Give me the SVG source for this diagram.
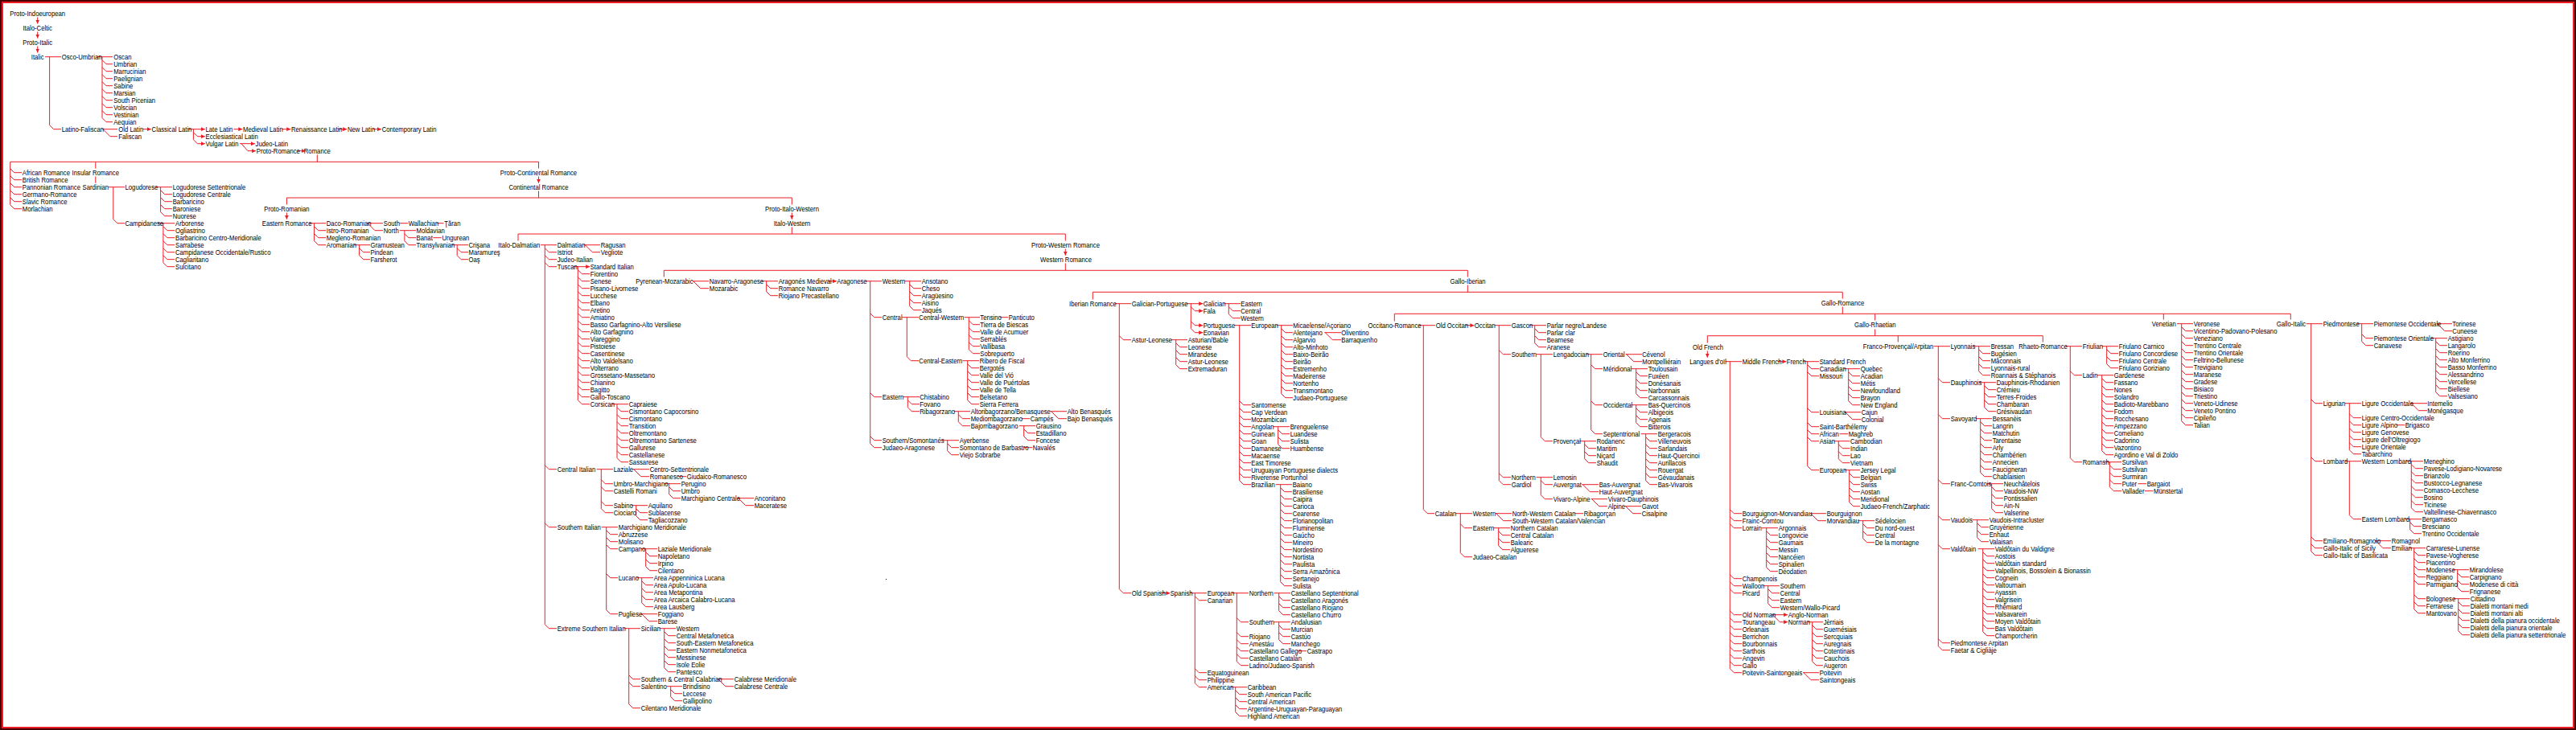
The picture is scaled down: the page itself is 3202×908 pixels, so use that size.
<svg xmlns="http://www.w3.org/2000/svg" width="3202" height="908" viewBox="0 0 3202 908">
<style>
text{font-family:"Liberation Sans",Arial,sans-serif;font-size:9px;fill:#000;dominant-baseline:central;transform-box:fill-box;transform-origin:0 50%;transform:scaleX(.86)}
text.m{text-anchor:middle;transform-origin:50% 50%}
#conn path{fill:none;stroke:#ee1c25;stroke-width:1}
#conn path.a{marker-end:url(#ah)}
</style>
<defs>
<marker id="ah" viewBox="0 0 5 5" refX="5" refY="2.5" markerWidth="5" markerHeight="5" markerUnits="userSpaceOnUse" orient="auto"><path d="M0,0L5,2.5L0,5z" fill="#ee1c25"/></marker>
</defs>
<rect x="0" y="0" width="3202" height="908" fill="#fff"/>
<rect x="1" y="1" width="3200" height="906" fill="none" stroke="#4a0000" stroke-width="2"/>
<rect x="3" y="3" width="3196" height="902" fill="none" stroke="#ee1c25" stroke-width="2"/>
<rect x="1101" y="720" width="1" height="1" fill="#000"/>
<g id="conn">
<path class="a" d="M46.7,21.5V29.5"/>
<path class="a" d="M46.7,39.5V47.5"/>
<path class="a" d="M46.7,57.5V65.5"/>
<path d="M56,70.7H76M61.6,70.7V155.7l5,5H76"/>
<path d="M120.5,70.7H140M127,70.7V146.7M127,74.7l5,5H140M127,83.7l5,5H140M127,92.7l5,5H140M127,101.7l5,5H140M127,110.7l5,5H140M127,119.7l5,5H140M127,128.7l5,5H140M127,137.7l5,5H140M127,146.7l5,5H140"/>
<path d="M127,160.7H146M128,160.7l9,9H146"/>
<path class="a" d="M177.5,160.7H187.8"/>
<path d="M240.4,160.7V173.7"/>
<path class="a" d="M234.6,160.7H254.8"/>
<path class="a" d="M240.4,164.7l5,5H254.8"/>
<path class="a" d="M240.4,173.7l5,5H254.8"/>
<path class="a" d="M290.5,160.7H301.3"/>
<path class="a" d="M350.5,160.7H361.3"/>
<path class="a" d="M420.7,160.7H431.2"/>
<path class="a" d="M463.6,160.7H474"/>
<path class="a" d="M298,178.7H316.9"/>
<path class="a" d="M300,178.7l8,9H318.1"/>
<path class="a" d="M369.7,187.7H379.7"/>
<path d="M394.3,192.5V201.3M12.7,201.3H669.5"/>
<path d="M12.7,201.3V254.7M12.7,209.7l5,5H27M12.7,218.7l5,5H27M12.7,227.7l5,5H27M12.7,236.7l5,5H27M12.7,245.7l5,5H27M12.7,254.7l5,5H27"/>
<path d="M118.8,201.3V209.5M118.8,219.5V227.7"/>
<path d="M134.5,232.7H155M140.8,232.7V272.7l5,5H155"/>
<path d="M193.4,232.7H214M199.6,232.7V263.7M199.6,236.7l5,5H214M199.6,245.7l5,5H214M199.6,254.7l5,5H214M199.6,263.7l5,5H214"/>
<path d="M196.6,277.7H217M202.9,277.7V326.7M202.9,281.7l5,5H217M202.9,290.7l5,5H217M202.9,299.7l5,5H217M202.9,308.7l5,5H217M202.9,317.7l5,5H217M202.9,326.7l5,5H217"/>
<path d="M669.5,201.3V209.5"/>
<path class="a" d="M669.5,219.5V227.7"/>
<path d="M669.5,237.5V246M356.4,246H984.3M356.4,246V254.5"/>
<path class="a" d="M356.4,264.5V272.7"/>
<path d="M384.4,277.7H405M390.6,277.7V299.7M390.6,281.7l5,5H405M390.6,290.7l5,5H405M390.6,299.7l5,5H405"/>
<path d="M456,277.7H476M457,277.7l9,9H476"/>
<path d="M496.7,277.7H507M542.8,277.7H551.5"/>
<path d="M496.7,286.7H517M502.9,286.7V299.7M502.9,290.7l5,5H517M502.9,299.7l5,5H517"/>
<path d="M538.3,295.7H548.7"/>
<path d="M561.2,304.7H582M568.2,304.7V317.7M568.2,308.7l5,5H582M568.2,317.7l5,5H582"/>
<path d="M440,304.7H460M446.6,304.7V317.7M446.6,308.7l5,5H460M446.6,317.7l5,5H460"/>
<path d="M984.3,246V254.5"/>
<path class="a" d="M984.3,264.5V272.7"/>
<path d="M984.3,282.5V291M644,291H1324.3M644,291V299.5"/>
<path d="M672,304.7H692M677.3,304.7V776.7M677.3,308.7l5,5H692M677.3,317.7l5,5H692M677.3,326.7l5,5H692M677.3,578.7l5,5H692M677.3,650.7l5,5H692M677.3,776.7l5,5H692"/>
<path d="M725.6,304.7H746M727.3,304.7l9,9H746"/>
<path class="a" d="M712.6,331.7H733.2"/>
<path d="M718.3,331.7V497.7M718.3,335.7l5,5H733M718.3,344.7l5,5H733M718.3,353.7l5,5H733M718.3,362.7l5,5H733M718.3,371.7l5,5H733M718.3,380.7l5,5H733M718.3,389.7l5,5H733M718.3,398.7l5,5H733M718.3,407.7l5,5H733M718.3,416.7l5,5H733M718.3,425.7l5,5H733M718.3,434.7l5,5H733M718.3,443.7l5,5H733M718.3,452.7l5,5H733M718.3,461.7l5,5H733M718.3,470.7l5,5H733M718.3,479.7l5,5H733M718.3,488.7l5,5H733M718.3,497.7l5,5H733"/>
<path d="M760.6,502.7H781M767,502.7V569.7M767,506.7l5,5H781M767,515.7l5,5H781M767,524.7l5,5H781M767,533.7l5,5H781M767,542.7l5,5H781M767,551.7l5,5H781M767,560.7l5,5H781M767,569.7l5,5H781"/>
<path d="M741.6,583.7H762M747.3,583.7V632.7M747.3,596.7l5,5H762M747.3,605.7l5,5H762M747.3,623.7l5,5H762M747.3,632.7l5,5H762"/>
<path d="M786.6,583.7H807M787.7,583.7l9,9H807"/>
<path d="M842.3,592.7H853.2"/>
<path d="M825.6,601.7H846M831.7,601.7V614.7M831.7,605.7l5,5H846M831.7,614.7l5,5H846"/>
<path d="M916.6,619.7H937M917.7,619.7l9,9H937"/>
<path d="M784.6,628.7H805M790.7,628.7V641.7M790.7,632.7l5,5H805M790.7,641.7l5,5H805"/>
<path d="M747.6,655.7H768M753.7,655.7V758.7M753.7,659.7l5,5H768M753.7,668.7l5,5H768M753.7,677.7l5,5H768M753.7,713.7l5,5H768M753.7,758.7l5,5H768"/>
<path d="M796.6,682.7H817M802.7,682.7V704.7M802.7,686.7l5,5H817M802.7,695.7l5,5H817M802.7,704.7l5,5H817"/>
<path d="M791.3,718.7H812M797.7,718.7V749.7M797.7,722.7l5,5H812M797.7,731.7l5,5H812M797.7,740.7l5,5H812M797.7,749.7l5,5H812"/>
<path d="M796.3,763.7H817M797.7,763.7l9,9H817"/>
<path d="M775.6,781.7H796M781.7,781.7V875.7M781.7,839.7l5,5H796M781.7,848.7l5,5H796M781.7,875.7l5,5H796"/>
<path d="M819.6,781.7H840M825.7,781.7V830.7M825.7,785.7l5,5H840M825.7,794.7l5,5H840M825.7,803.7l5,5H840M825.7,812.7l5,5H840M825.7,821.7l5,5H840M825.7,830.7l5,5H840"/>
<path d="M891.6,844.7H912M892.7,844.7l9,9H912"/>
<path d="M828.6,853.7H848M833.7,853.7V866.7M833.7,857.7l5,5H848M833.7,866.7l5,5H848"/>
<path d="M1324.3,291V299.5"/>
<path class="a" d="M1324.3,309.5V317.7"/>
<path d="M1324.3,327.5V336.3M825.3,336.3H1824.3M825.3,336.3V344.5"/>
<path d="M860.6,349.7H881M861.7,349.7l9,9H881"/>
<path d="M946.3,349.7H967M952.7,349.7V362.7M952.7,353.7l5,5H967M952.7,362.7l5,5H967"/>
<path class="a" d="M1029.6,349.7H1040"/>
<path d="M1075.6,349.7H1096M1081.7,349.7V551.7M1081.7,389.7l5,5H1096M1081.7,488.7l5,5H1096M1081.7,542.7l5,5H1096M1081.7,551.7l5,5H1096"/>
<path d="M1124.6,349.7H1145M1130.7,349.7V380.7M1130.7,353.7l5,5H1145M1130.7,362.7l5,5H1145M1130.7,371.7l5,5H1145M1130.7,380.7l5,5H1145"/>
<path d="M1121.3,394.7H1142M1127.3,394.7V443.7l5,5H1142"/>
<path d="M1198.6,394.7H1218M1204.3,394.7V434.7M1204.3,398.7l5,5H1218M1204.3,407.7l5,5H1218M1204.3,416.7l5,5H1218M1204.3,425.7l5,5H1218M1204.3,434.7l5,5H1218"/>
<path d="M1242.6,394.7H1253.2"/>
<path d="M1196.6,448.7H1217M1202.7,448.7V497.7M1202.7,452.7l5,5H1217M1202.7,461.7l5,5H1217M1202.7,470.7l5,5H1217M1202.7,479.7l5,5H1217M1202.7,488.7l5,5H1217M1202.7,497.7l5,5H1217"/>
<path d="M1122.6,493.7H1143M1128.3,493.7V506.7M1128.3,497.7l5,5H1143M1128.3,506.7l5,5H1143"/>
<path d="M1185.6,511.7H1206M1191.3,511.7V524.7M1191.3,515.7l5,5H1206M1191.3,524.7l5,5H1206"/>
<path d="M1305.6,511.7H1326M1306.7,511.7l9,9H1326"/>
<path d="M1269.6,520.7H1280.2"/>
<path d="M1267,529.7H1287M1272.7,529.7V542.7M1272.7,533.7l5,5H1287M1272.7,542.7l5,5H1287"/>
<path d="M1171.6,547.7H1192M1177.7,547.7V560.7M1177.7,551.7l5,5H1192M1177.7,560.7l5,5H1192"/>
<path d="M1272.6,556.7H1283.2"/>
<path d="M1824.3,336.3V344.5M1824.3,354.5V363.3M1358.3,363.3H2290.3M1358.3,363.3V372.5"/>
<path d="M1385.6,377.7H1406M1391.3,377.7V732.7M1391.3,417.7l5,5H1406M1391.3,732.7l5,5H1406"/>
<path d="M1480.3,377.7V408.7"/>
<path class="a" d="M1474.6,377.7H1495.2"/>
<path class="a" d="M1480.3,381.7l5,5H1495.2"/>
<path class="a" d="M1480.3,399.7l5,5H1495.2"/>
<path class="a" d="M1480.3,408.7l5,5H1495.2"/>
<path d="M1521.6,377.7H1542M1527.3,377.7V390.7M1527.3,381.7l5,5H1542M1527.3,390.7l5,5H1542"/>
<path d="M1534.6,404.7H1555M1540.7,404.7V597.7M1540.7,498.7l5,5H1555M1540.7,507.7l5,5H1555M1540.7,516.7l5,5H1555M1540.7,525.7l5,5H1555M1540.7,534.7l5,5H1555M1540.7,543.7l5,5H1555M1540.7,552.7l5,5H1555M1540.7,561.7l5,5H1555M1540.7,570.7l5,5H1555M1540.7,579.7l5,5H1555M1540.7,588.7l5,5H1555M1540.7,597.7l5,5H1555"/>
<path d="M1586.6,404.7H1607M1592.7,404.7V489.7M1592.7,408.7l5,5H1607M1592.7,417.7l5,5H1607M1592.7,426.7l5,5H1607M1592.7,435.7l5,5H1607M1592.7,444.7l5,5H1607M1592.7,453.7l5,5H1607M1592.7,462.7l5,5H1607M1592.7,471.7l5,5H1607M1592.7,480.7l5,5H1607M1592.7,489.7l5,5H1607"/>
<path d="M1646.3,413.7H1667M1647.3,413.7l9,9H1667"/>
<path d="M1582.6,530.7H1603M1588.7,530.7V552.7M1588.7,534.7l5,5H1603M1588.7,543.7l5,5H1603M1588.7,552.7l5,5H1603"/>
<path d="M1585.6,602.7H1606M1591.7,602.7V723.7M1591.7,606.7l5,5H1606M1591.7,615.7l5,5H1606M1591.7,624.7l5,5H1606M1591.7,633.7l5,5H1606M1591.7,642.7l5,5H1606M1591.7,651.7l5,5H1606M1591.7,660.7l5,5H1606M1591.7,669.7l5,5H1606M1591.7,678.7l5,5H1606M1591.7,687.7l5,5H1606M1591.7,696.7l5,5H1606M1591.7,705.7l5,5H1606M1591.7,714.7l5,5H1606M1591.7,723.7l5,5H1606"/>
<path d="M1455.6,422.7H1476M1461.7,422.7V453.7M1461.7,426.7l5,5H1476M1461.7,435.7l5,5H1476M1461.7,444.7l5,5H1476M1461.7,453.7l5,5H1476"/>
<path class="a" d="M1443.6,737.7H1454.4"/>
<path d="M1479.6,737.7H1500M1485.3,737.7V849.7M1485.3,741.7l5,5H1500M1485.3,831.7l5,5H1500M1485.3,840.7l5,5H1500M1485.3,849.7l5,5H1500"/>
<path d="M1531.6,737.7H1552M1537.3,737.7V822.7M1537.3,768.7l5,5H1552M1537.3,786.7l5,5H1552M1537.3,795.7l5,5H1552M1537.3,804.7l5,5H1552M1537.3,813.7l5,5H1552M1537.3,822.7l5,5H1552"/>
<path d="M1583.6,737.7H1604M1589.7,737.7V759.7M1589.7,741.7l5,5H1604M1589.7,750.7l5,5H1604M1589.7,759.7l5,5H1604"/>
<path d="M1583.6,773.7H1604M1589.7,773.7V795.7M1589.7,777.7l5,5H1604M1589.7,786.7l5,5H1604M1589.7,795.7l5,5H1604"/>
<path d="M1613.6,809.7H1624.2"/>
<path d="M1529.6,854.7H1550M1535.7,854.7V885.7M1535.7,858.7l5,5H1550M1535.7,867.7l5,5H1550M1535.7,876.7l5,5H1550M1535.7,885.7l5,5H1550"/>
<path d="M2290.3,363.3V371.5M2290.3,381.5V390.3M1733.3,390.3H2847.3M1733.3,390.3V399.5"/>
<path d="M1763.6,404.7H1784M1769.3,404.7V633.7l5,5H1783"/>
<path class="a" d="M1821.6,404.7H1832.4"/>
<path d="M1857.6,404.7H1878M1863.3,404.7V597.7M1863.3,435.7l5,5H1878M1863.3,588.7l5,5H1878M1863.3,597.7l5,5H1878"/>
<path d="M1901.6,404.7H1922M1907.7,404.7V426.7M1907.7,408.7l5,5H1922M1907.7,417.7l5,5H1922M1907.7,426.7l5,5H1922"/>
<path d="M1909.6,440.7H1930M1915.3,440.7V543.7l5,5H1930"/>
<path d="M1971.6,440.7H1992M1977.7,440.7V534.7M1977.7,453.7l5,5H1992M1977.7,498.7l5,5H1992M1977.7,534.7l5,5H1992"/>
<path d="M2020.6,440.7H2041M2021.7,440.7l9,9H2041"/>
<path d="M2027.6,458.7H2048M2033.7,458.7V489.7M2033.7,462.7l5,5H2048M2033.7,471.7l5,5H2048M2033.7,480.7l5,5H2048M2033.7,489.7l5,5H2048"/>
<path d="M2027.6,503.7H2048M2033.7,503.7V525.7M2033.7,507.7l5,5H2048M2033.7,516.7l5,5H2048M2033.7,525.7l5,5H2048"/>
<path d="M2039.6,539.7H2060M2045.7,539.7V597.7M2045.7,543.7l5,5H2060M2045.7,552.7l5,5H2060M2045.7,561.7l5,5H2060M2045.7,570.7l5,5H2060M2045.7,579.7l5,5H2060M2045.7,588.7l5,5H2060M2045.7,597.7l5,5H2060"/>
<path d="M1963.6,548.7H1984M1969.7,548.7V570.7M1969.7,552.7l5,5H1984M1969.7,561.7l5,5H1984M1969.7,570.7l5,5H1984"/>
<path d="M1909.6,593.7H1930M1915.3,593.7V615.7M1915.3,597.7l5,5H1930M1915.3,615.7l5,5H1930"/>
<path d="M1966.3,602.7H1987M1967.3,602.7l9,9H1987"/>
<path d="M1977.6,620.7H1998M1978.7,620.7l9,9H1998"/>
<path d="M2019.6,629.7H2040M2020.7,629.7l9,9H2040"/>
<path d="M1809.3,638.7H1830M1815.3,638.7V687.7M1815.3,651.7l5,5H1830M1815.3,687.7l5,5H1830"/>
<path d="M1858.6,638.7H1879M1859.7,638.7l9,9H1879"/>
<path d="M1957.3,638.7H1968.2"/>
<path d="M1856.6,656.7H1877M1862.7,656.7V678.7M1862.7,660.7l5,5H1877M1862.7,669.7l5,5H1877M1862.7,678.7l5,5H1877"/>
<path d="M2330.7,390.3V398.5M2330.7,409.5V417.7M2122.3,417.7H2539.3M2122.3,417.7V426.5"/>
<path class="a" d="M2122.3,436.5V444.7"/>
<path d="M2144.6,449.7H2165M2150.3,449.7V831.7M2150.3,633.7l5,5H2165M2150.3,642.7l5,5H2165M2150.3,651.7l5,5H2165M2150.3,714.7l5,5H2165M2150.3,723.7l5,5H2165M2150.3,732.7l5,5H2165M2150.3,759.7l5,5H2165M2150.3,768.7l5,5H2165M2150.3,777.7l5,5H2165M2150.3,786.7l5,5H2165M2150.3,795.7l5,5H2165M2150.3,804.7l5,5H2165M2150.3,813.7l5,5H2165M2150.3,822.7l5,5H2165M2150.3,831.7l5,5H2165"/>
<path class="a" d="M2209.6,449.7H2220.4"/>
<path d="M2241.6,449.7H2261M2246.7,449.7V579.7M2246.7,453.7l5,5H2261M2246.7,462.7l5,5H2261M2246.7,507.7l5,5H2261M2246.7,525.7l5,5H2261M2246.7,534.7l5,5H2261M2246.7,543.7l5,5H2261M2246.7,579.7l5,5H2261"/>
<path d="M2292,458.7H2312M2297.7,458.7V498.7M2297.7,462.7l5,5H2312M2297.7,471.7l5,5H2312M2297.7,480.7l5,5H2312M2297.7,489.7l5,5H2312M2297.7,498.7l5,5H2312"/>
<path d="M2292.6,512.7H2313M2293.7,512.7l9,9H2313"/>
<path d="M2286.6,539.7H2297.2"/>
<path d="M2279.6,548.7H2299.5M2285.3,548.7V570.7M2285.3,552.7l5,5H2299.5M2285.3,561.7l5,5H2299.5M2285.3,570.7l5,5H2299.5"/>
<path d="M2292.6,584.7H2312M2298.7,584.7V624.7M2298.7,588.7l5,5H2312M2298.7,597.7l5,5H2312M2298.7,606.7l5,5H2312M2298.7,615.7l5,5H2312M2298.7,624.7l5,5H2312"/>
<path d="M2249.6,638.7H2270M2250.7,638.7l9,9H2270"/>
<path d="M2309.6,647.7H2330M2315.7,647.7V669.7M2315.7,651.7l5,5H2330M2315.7,660.7l5,5H2330M2315.7,669.7l5,5H2330"/>
<path d="M2189.6,656.7H2210M2195.7,656.7V705.7M2195.7,660.7l5,5H2210M2195.7,669.7l5,5H2210M2195.7,678.7l5,5H2210M2195.7,687.7l5,5H2210M2195.7,696.7l5,5H2210M2195.7,705.7l5,5H2210"/>
<path d="M2191.6,728.7H2212M2197.7,728.7V750.7M2197.7,732.7l5,5H2212M2197.7,741.7l5,5H2212M2197.7,750.7l5,5H2212"/>
<path class="a" d="M2201.6,764.7H2222.2"/>
<path class="a" d="M2203.3,764.7l9,9H2222.2"/>
<path d="M2247,773.7H2266M2252.7,773.7V822.7M2252.7,777.7l5,5H2266M2252.7,786.7l5,5H2266M2252.7,795.7l5,5H2266M2252.7,804.7l5,5H2266M2252.7,813.7l5,5H2266M2252.7,822.7l5,5H2266"/>
<path d="M2241,836.7H2261M2242,836.7l9,9H2261"/>
<path d="M2359.3,417.7V425.5M2403.6,430.7H2424M2409.3,430.7V803.7M2409.3,470.7l5,5H2424M2409.3,515.7l5,5H2424M2409.3,596.7l5,5H2424M2409.3,641.7l5,5H2424M2409.3,677.7l5,5H2424M2409.3,794.7l5,5H2424M2409.3,803.7l5,5H2424"/>
<path d="M2453.6,430.7H2474M2459.7,430.7V461.7M2459.7,434.7l5,5H2474M2459.7,443.7l5,5H2474M2459.7,452.7l5,5H2474M2459.7,461.7l5,5H2474"/>
<path d="M2460.6,475.7H2481M2466.7,475.7V506.7M2466.7,479.7l5,5H2481M2466.7,488.7l5,5H2481M2466.7,497.7l5,5H2481M2466.7,506.7l5,5H2481"/>
<path d="M2455.6,520.7H2476M2461.7,520.7V587.7M2461.7,524.7l5,5H2476M2461.7,533.7l5,5H2476M2461.7,542.7l5,5H2476M2461.7,551.7l5,5H2476M2461.7,560.7l5,5H2476M2461.7,569.7l5,5H2476M2461.7,578.7l5,5H2476M2461.7,587.7l5,5H2476"/>
<path d="M2470,601.7H2490M2475.7,601.7V632.7M2475.7,605.7l5,5H2490M2475.7,614.7l5,5H2490M2475.7,623.7l5,5H2490M2475.7,632.7l5,5H2490"/>
<path d="M2452,646.7H2472M2457.7,646.7V668.7M2457.7,650.7l5,5H2472M2457.7,659.7l5,5H2472M2457.7,668.7l5,5H2472"/>
<path d="M2458.6,682.7H2479M2464.7,682.7V785.7M2464.7,686.7l5,5H2479M2464.7,695.7l5,5H2479M2464.7,704.7l5,5H2479M2464.7,713.7l5,5H2479M2464.7,722.7l5,5H2479M2464.7,731.7l5,5H2479M2464.7,740.7l5,5H2479M2464.7,749.7l5,5H2479M2464.7,758.7l5,5H2479M2464.7,767.7l5,5H2479M2464.7,776.7l5,5H2479M2464.7,785.7l5,5H2479"/>
<path d="M2539.3,417.7V425.5M2567.6,430.7H2588M2573.3,430.7V569.7M2573.3,461.7l5,5H2588M2573.3,569.7l5,5H2588"/>
<path d="M2612.6,430.7H2633M2618.7,430.7V452.7M2618.7,434.7l5,5H2633M2618.7,443.7l5,5H2633M2618.7,452.7l5,5H2633"/>
<path d="M2606.6,466.7H2627M2612.7,466.7V560.7M2612.7,470.7l5,5H2627M2612.7,479.7l5,5H2627M2612.7,488.7l5,5H2627M2612.7,497.7l5,5H2627M2612.7,506.7l5,5H2627M2612.7,515.7l5,5H2627M2612.7,524.7l5,5H2627M2612.7,533.7l5,5H2627M2612.7,542.7l5,5H2627M2612.7,551.7l5,5H2627M2612.7,560.7l5,5H2627"/>
<path d="M2616.3,574.7H2637M2622.3,574.7V605.7M2622.3,578.7l5,5H2637M2622.3,587.7l5,5H2637M2622.3,596.7l5,5H2637M2622.3,605.7l5,5H2637"/>
<path d="M2657.6,601.7H2668.2M2666,610.7H2676.5"/>
<path d="M2689.3,390.3V397.5M2706,402.7H2726M2711.7,402.7V523.7M2711.7,406.7l5,5H2726M2711.7,415.7l5,5H2726M2711.7,424.7l5,5H2726M2711.7,433.7l5,5H2726M2711.7,442.7l5,5H2726M2711.7,451.7l5,5H2726M2711.7,460.7l5,5H2726M2711.7,469.7l5,5H2726M2711.7,478.7l5,5H2726M2711.7,487.7l5,5H2726M2711.7,496.7l5,5H2726M2711.7,505.7l5,5H2726M2711.7,514.7l5,5H2726M2711.7,523.7l5,5H2726"/>
<path d="M2847.3,390.3V397.5M2866.6,402.7H2887M2872.7,402.7V685.7M2872.7,496.7l5,5H2887M2872.7,568.7l5,5H2887M2872.7,667.7l5,5H2887M2872.7,676.7l5,5H2887M2872.7,685.7l5,5H2887"/>
<path d="M2929.6,402.7H2950M2935.7,402.7V424.7M2935.7,415.7l5,5H2950M2935.7,424.7l5,5H2950"/>
<path d="M3028.6,402.7H3048M3029.7,402.7l9,9H3048"/>
<path d="M3021.6,420.7H3042M3027.7,420.7V487.7M3027.7,424.7l5,5H3042M3027.7,433.7l5,5H3042M3027.7,442.7l5,5H3042M3027.7,451.7l5,5H3042M3027.7,460.7l5,5H3042M3027.7,469.7l5,5H3042M3027.7,478.7l5,5H3042M3027.7,487.7l5,5H3042"/>
<path d="M2914.6,501.7H2935M2920.3,501.7V559.7M2920.3,514.7l5,5H2935M2920.3,523.7l5,5H2935M2920.3,532.7l5,5H2935M2920.3,541.7l5,5H2935M2920.3,550.7l5,5H2935M2920.3,559.7l5,5H2935"/>
<path d="M2996.3,501.7H3017M2997.3,501.7l9,9H3017"/>
<path d="M2978.6,528.7H2989.2"/>
<path d="M2914.6,573.7H2935M2920.3,573.7V640.7l5,5H2935"/>
<path d="M2991.3,573.7H3012M2997.3,573.7V631.7M2997.3,577.7l5,5H3012M2997.3,586.7l5,5H3012M2997.3,595.7l5,5H3012M2997.3,604.7l5,5H3012M2997.3,613.7l5,5H3012M2997.3,622.7l5,5H3012M2997.3,631.7l5,5H3012"/>
<path d="M2989.6,645.7H3010M2995.7,645.7V658.7M2995.7,649.7l5,5H3010M2995.7,658.7l5,5H3010"/>
<path d="M2952,672.7H2972M2953,672.7l9,9H2972"/>
<path d="M2994.6,681.7H3015M3000.7,681.7V757.7M3000.7,685.7l5,5H3015M3000.7,694.7l5,5H3015M3000.7,703.7l5,5H3015M3000.7,712.7l5,5H3015M3000.7,721.7l5,5H3015M3000.7,739.7l5,5H3015M3000.7,748.7l5,5H3015M3000.7,757.7l5,5H3015"/>
<path d="M3048.6,708.7H3069M3054.7,708.7V730.7M3054.7,712.7l5,5H3069M3054.7,721.7l5,5H3069M3054.7,730.7l5,5H3069"/>
<path d="M3049.6,744.7H3070M3055.7,744.7V784.7M3055.7,748.7l5,5H3070M3055.7,757.7l5,5H3070M3055.7,766.7l5,5H3070M3055.7,775.7l5,5H3070M3055.7,784.7l5,5H3070"/>
</g>
<g id="nodes">
<g id="n1"><text class="m" x="46.7" y="16.7">Proto-Indoeuropean</text></g>
<g id="n2"><text class="m" x="46.7" y="34.7">Italo-Celtic</text></g>
<g id="n3"><text class="m" x="46.7" y="52.7">Proto-Italic</text></g>
<g id="n4"><text class="m" x="46.7" y="70.7">Italic</text></g>
<g id="n5"><text x="76.7" y="70.7">Osco-Umbrian</text></g>
<g id="n6"><text x="141.2" y="70.7">Oscan</text></g>
<g id="n7"><text x="141.2" y="79.7">Umbrian</text></g>
<g id="n8"><text x="141.2" y="88.7">Marrucinian</text></g>
<g id="n9"><text x="141.2" y="97.7">Paelignian</text></g>
<g id="n10"><text x="141.2" y="106.7">Sabine</text></g>
<g id="n11"><text x="141.2" y="115.7">Marsian</text></g>
<g id="n12"><text x="141.2" y="124.7">South Picenian</text></g>
<g id="n13"><text x="141.2" y="133.7">Volscian</text></g>
<g id="n14"><text x="141.2" y="142.7">Vestinian</text></g>
<g id="n15"><text x="141.2" y="151.7">Aequian</text></g>
<g id="n16"><text x="76.7" y="160.7">Latino-Faliscan</text></g>
<g id="n17"><text x="147.3" y="160.7">Old Latin</text></g>
<g id="n18"><text x="147.3" y="169.7">Faliscan</text></g>
<g id="n19"><text x="188.6" y="160.7">Classical Latin</text></g>
<g id="n20"><text x="255.5" y="160.7">Late Latin</text></g>
<g id="n21"><text x="255.5" y="169.7">Ecclesiastical Latin</text></g>
<g id="n22"><text x="255.5" y="178.7">Vulgar Latin</text></g>
<g id="n23"><text x="302" y="160.7">Medieval Latin</text></g>
<g id="n24"><text x="362" y="160.7">Renaissance Latin</text></g>
<g id="n25"><text x="431.9" y="160.7">New Latin</text></g>
<g id="n26"><text x="474.7" y="160.7">Contemporary Latin</text></g>
<g id="n27"><text x="317.6" y="178.7">Judeo-Latin</text></g>
<g id="n28"><text x="318.8" y="187.7">Proto-Romance</text></g>
<g id="n29"><text class="m" x="394.3" y="187.7">Romance</text></g>
<g id="n30"><text x="27.8" y="214.7">African Romance</text></g>
<g id="n31"><text x="27.8" y="223.7">British Romance</text></g>
<g id="n32"><text x="27.8" y="232.7">Pannonian Romance</text></g>
<g id="n33"><text x="27.8" y="241.7">Germano-Romance</text></g>
<g id="n34"><text x="27.8" y="250.7">Slavic Romance</text></g>
<g id="n35"><text x="27.8" y="259.7">Morlachian</text></g>
<g id="n36"><text class="m" x="118.8" y="214.7">Insular Romance</text></g>
<g id="n37"><text class="m" x="118.8" y="232.7">Sardinian</text></g>
<g id="n38"><text x="155.5" y="232.7">Logudorese</text></g>
<g id="n39"><text x="155.5" y="277.7">Campidanese</text></g>
<g id="n40"><text x="214.7" y="232.7">Logudorese Settentrionale</text></g>
<g id="n41"><text x="214.7" y="241.7">Logudorese Centrale</text></g>
<g id="n42"><text x="214.7" y="250.7">Barbaricino</text></g>
<g id="n43"><text x="214.7" y="259.7">Baroniese</text></g>
<g id="n44"><text x="214.7" y="268.7">Nuorese</text></g>
<g id="n45"><text x="218" y="277.7">Arborense</text></g>
<g id="n46"><text x="218" y="286.7">Ogliastrino</text></g>
<g id="n47"><text x="218" y="295.7">Barbaricino Centro-Meridionale</text></g>
<g id="n48"><text x="218" y="304.7">Sarrabese</text></g>
<g id="n49"><text x="218" y="313.7">Campidanese Occidentale/Rustico</text></g>
<g id="n50"><text x="218" y="322.7">Cagliaritano</text></g>
<g id="n51"><text x="218" y="331.7">Sulcitano</text></g>
<g id="n52"><text class="m" x="669.5" y="214.7">Proto-Continental Romance</text></g>
<g id="n53"><text class="m" x="669.5" y="232.7">Continental Romance</text></g>
<g id="n54"><text class="m" x="356.4" y="259.7">Proto-Romanian</text></g>
<g id="n55"><text class="m" x="356.7" y="277.7">Eastern Romance</text></g>
<g id="n56"><text x="405.8" y="277.7">Daco-Romanian</text></g>
<g id="n57"><text x="405.8" y="286.7">Istro-Romanian</text></g>
<g id="n58"><text x="405.8" y="295.7">Megleno-Romanian</text></g>
<g id="n59"><text x="405.8" y="304.7">Aromanian</text></g>
<g id="n60"><text x="476.8" y="277.7">South</text></g>
<g id="n61"><text x="476.8" y="286.7">North</text></g>
<g id="n62"><text x="507.8" y="277.7">Wallachian</text></g>
<g id="n63"><text x="552.3" y="277.7">Ţăran</text></g>
<g id="n64"><text x="517.6" y="286.7">Moldavian</text></g>
<g id="n65"><text x="517.6" y="295.7">Banat</text></g>
<g id="n66"><text x="517.6" y="304.7">Transylvanian</text></g>
<g id="n67"><text x="549.4" y="295.7">Ungurean</text></g>
<g id="n68"><text x="582.5" y="304.7">Crişana</text></g>
<g id="n69"><text x="582.5" y="313.7">Maramureş</text></g>
<g id="n70"><text x="582.5" y="322.7">Oaş</text></g>
<g id="n71"><text x="460.4" y="304.7">Gramustean</text></g>
<g id="n72"><text x="460.4" y="313.7">Pindean</text></g>
<g id="n73"><text x="460.4" y="322.7">Farsherot</text></g>
<g id="n74"><text class="m" x="984.5" y="259.7">Proto-Italo-Western</text></g>
<g id="n75"><text class="m" x="984.5" y="277.7">Italo-Western</text></g>
<g id="n76"><text class="m" x="645.3" y="304.7">Italo-Dalmatian</text></g>
<g id="n77"><text x="692.7" y="304.7">Dalmatian</text></g>
<g id="n78"><text x="692.7" y="313.7">Istriot</text></g>
<g id="n79"><text x="692.7" y="322.7">Judeo-Italian</text></g>
<g id="n80"><text x="692.7" y="331.7">Tuscan</text></g>
<g id="n81"><text x="692.7" y="583.7">Central Italian</text></g>
<g id="n82"><text x="692.7" y="655.7">Southern Italian</text></g>
<g id="n83"><text x="692.7" y="781.7">Extreme Southern Italian</text></g>
<g id="n84"><text x="746.7" y="304.7">Ragusan</text></g>
<g id="n85"><text x="746.7" y="313.7">Vegliote</text></g>
<g id="n86"><text x="733.7" y="331.7">Standard Italian</text></g>
<g id="n87"><text x="733.7" y="340.7">Fiorentino</text></g>
<g id="n88"><text x="733.7" y="349.7">Senese</text></g>
<g id="n89"><text x="733.7" y="358.7">Pisano-Livornese</text></g>
<g id="n90"><text x="733.7" y="367.7">Lucchese</text></g>
<g id="n91"><text x="733.7" y="376.7">Elbano</text></g>
<g id="n92"><text x="733.7" y="385.7">Aretino</text></g>
<g id="n93"><text x="733.7" y="394.7">Amiatino</text></g>
<g id="n94"><text x="733.7" y="403.7">Basso Garfagnino-Alto Versiliese</text></g>
<g id="n95"><text x="733.7" y="412.7">Alto Garfagnino</text></g>
<g id="n96"><text x="733.7" y="421.7">Viareggino</text></g>
<g id="n97"><text x="733.7" y="430.7">Pistoiese</text></g>
<g id="n98"><text x="733.7" y="439.7">Casentinese</text></g>
<g id="n99"><text x="733.7" y="448.7">Alto Valdelsano</text></g>
<g id="n100"><text x="733.7" y="457.7">Volterrano</text></g>
<g id="n101"><text x="733.7" y="466.7">Grossetano-Massetano</text></g>
<g id="n102"><text x="733.7" y="475.7">Chianino</text></g>
<g id="n103"><text x="733.7" y="484.7">Bagitto</text></g>
<g id="n104"><text x="733.7" y="493.7">Gallo-Toscano</text></g>
<g id="n105"><text x="733.7" y="502.7">Corsican</text></g>
<g id="n106"><text x="781.7" y="502.7">Capraiese</text></g>
<g id="n107"><text x="781.7" y="511.7">Cismontano Capocorsino</text></g>
<g id="n108"><text x="781.7" y="520.7">Cismontano</text></g>
<g id="n109"><text x="781.7" y="529.7">Transition</text></g>
<g id="n110"><text x="781.7" y="538.7">Oltremontano</text></g>
<g id="n111"><text x="781.7" y="547.7">Oltremontano Sartenese</text></g>
<g id="n112"><text x="781.7" y="556.7">Gallurese</text></g>
<g id="n113"><text x="781.7" y="565.7">Castellanese</text></g>
<g id="n114"><text x="781.7" y="574.7">Sassarese</text></g>
<g id="n115"><text x="762.7" y="583.7">Laziale</text></g>
<g id="n116"><text x="762.7" y="601.7">Umbro-Marchigiano</text></g>
<g id="n117"><text x="762.7" y="610.7">Castelli Romani</text></g>
<g id="n118"><text x="762.7" y="628.7">Sabino</text></g>
<g id="n119"><text x="762.7" y="637.7">Ciociaro</text></g>
<g id="n120"><text x="807.7" y="583.7">Centro-Settentrionale</text></g>
<g id="n121"><text x="807.7" y="592.7">Romanesco</text></g>
<g id="n122"><text x="853.7" y="592.7">Giudaico-Romanesco</text></g>
<g id="n123"><text x="846.7" y="601.7">Perugino</text></g>
<g id="n124"><text x="846.7" y="610.7">Umbro</text></g>
<g id="n125"><text x="846.7" y="619.7">Marchigiano Centrale</text></g>
<g id="n126"><text x="937.7" y="619.7">Anconitano</text></g>
<g id="n127"><text x="937.7" y="628.7">Maceratese</text></g>
<g id="n128"><text x="805.7" y="628.7">Aquilano</text></g>
<g id="n129"><text x="805.7" y="637.7">Sublacense</text></g>
<g id="n130"><text x="805.7" y="646.7">Tagliacozzano</text></g>
<g id="n131"><text x="768.7" y="655.7">Marchigiano Meridionale</text></g>
<g id="n132"><text x="768.7" y="664.7">Abruzzese</text></g>
<g id="n133"><text x="768.7" y="673.7">Molisano</text></g>
<g id="n134"><text x="768.7" y="682.7">Campano</text></g>
<g id="n135"><text x="768.7" y="718.7">Lucano</text></g>
<g id="n136"><text x="768.7" y="763.7">Pugliese</text></g>
<g id="n137"><text x="817.7" y="682.7">Laziale Meridionale</text></g>
<g id="n138"><text x="817.7" y="691.7">Napoletano</text></g>
<g id="n139"><text x="817.7" y="700.7">Irpino</text></g>
<g id="n140"><text x="817.7" y="709.7">Cilentano</text></g>
<g id="n141"><text x="812.7" y="718.7">Area Appenninica Lucana</text></g>
<g id="n142"><text x="812.7" y="727.7">Area Apulo-Lucana</text></g>
<g id="n143"><text x="812.7" y="736.7">Area Metapontina</text></g>
<g id="n144"><text x="812.7" y="745.7">Area Arcaica Calabro-Lucana</text></g>
<g id="n145"><text x="812.7" y="754.7">Area Lausberg</text></g>
<g id="n146"><text x="817.7" y="763.7">Foggiano</text></g>
<g id="n147"><text x="817.7" y="772.7">Barese</text></g>
<g id="n148"><text x="796.7" y="781.7">Sicilian</text></g>
<g id="n149"><text x="796.7" y="844.7">Southern &amp; Central Calabrian</text></g>
<g id="n150"><text x="796.7" y="853.7">Salentino</text></g>
<g id="n151"><text x="796.7" y="880.7">Cilentano Meridionale</text></g>
<g id="n152"><text x="840.7" y="781.7">Western</text></g>
<g id="n153"><text x="840.7" y="790.7">Central Metafonetica</text></g>
<g id="n154"><text x="840.7" y="799.7">South-Eastern Metafonetica</text></g>
<g id="n155"><text x="840.7" y="808.7">Eastern Nonmetafonetica</text></g>
<g id="n156"><text x="840.7" y="817.7">Messinese</text></g>
<g id="n157"><text x="840.7" y="826.7">Isole Eolie</text></g>
<g id="n158"><text x="840.7" y="835.7">Pantesco</text></g>
<g id="n159"><text x="912.7" y="844.7">Calabrese Meridionale</text></g>
<g id="n160"><text x="912.7" y="853.7">Calabrese Centrale</text></g>
<g id="n161"><text x="848.7" y="853.7">Brindisino</text></g>
<g id="n162"><text x="848.7" y="862.7">Leccese</text></g>
<g id="n163"><text x="848.7" y="871.7">Gallipolino</text></g>
<g id="n164"><text class="m" x="1324.5" y="304.7">Proto-Western Romance</text></g>
<g id="n165"><text class="m" x="1325" y="322.7">Western Romance</text></g>
<g id="n166"><text class="m" x="826" y="349.7">Pyrenean-Mozarabic</text></g>
<g id="n167"><text x="881.7" y="349.7">Navarro-Aragonese</text></g>
<g id="n168"><text x="881.7" y="358.7">Mozarabic</text></g>
<g id="n169"><text x="967.7" y="349.7">Aragonés Medieval</text></g>
<g id="n170"><text x="967.7" y="358.7">Romance Navarro</text></g>
<g id="n171"><text x="967.7" y="367.7">Riojano Precastellano</text></g>
<g id="n172"><text x="1040.3" y="349.7">Aragonese</text></g>
<g id="n173"><text x="1096.7" y="349.7">Western</text></g>
<g id="n174"><text x="1096.7" y="394.7">Central</text></g>
<g id="n175"><text x="1096.7" y="493.7">Eastern</text></g>
<g id="n176"><text x="1096.7" y="547.7">Southern/Somontanés</text></g>
<g id="n177"><text x="1096.7" y="556.7">Judaeo-Aragonese</text></g>
<g id="n178"><text x="1145.7" y="349.7">Ansotano</text></g>
<g id="n179"><text x="1145.7" y="358.7">Cheso</text></g>
<g id="n180"><text x="1145.7" y="367.7">Aragüesino</text></g>
<g id="n181"><text x="1145.7" y="376.7">Aisino</text></g>
<g id="n182"><text x="1145.7" y="385.7">Jaqués</text></g>
<g id="n183"><text x="1142.3" y="394.7">Central-Western</text></g>
<g id="n184"><text x="1142.3" y="448.7">Central-Eastern</text></g>
<g id="n185"><text x="1218.3" y="394.7">Tensino</text></g>
<g id="n186"><text x="1218.3" y="403.7">Tierra de Biescas</text></g>
<g id="n187"><text x="1218.3" y="412.7">Valle de Acumuer</text></g>
<g id="n188"><text x="1218.3" y="421.7">Serrablés</text></g>
<g id="n189"><text x="1218.3" y="430.7">Vallibasa</text></g>
<g id="n190"><text x="1218.3" y="439.7">Sobrepuerto</text></g>
<g id="n191"><text x="1253.7" y="394.7">Panticuto</text></g>
<g id="n192"><text x="1217.7" y="448.7">Ribero de Fiscal</text></g>
<g id="n193"><text x="1217.7" y="457.7">Bergotés</text></g>
<g id="n194"><text x="1217.7" y="466.7">Valle del Vió</text></g>
<g id="n195"><text x="1217.7" y="475.7">Valle de Puértolas</text></g>
<g id="n196"><text x="1217.7" y="484.7">Valle de Tella</text></g>
<g id="n197"><text x="1217.7" y="493.7">Belsetano</text></g>
<g id="n198"><text x="1217.7" y="502.7">Sierra Ferrera</text></g>
<g id="n199"><text x="1143.3" y="493.7">Chistabino</text></g>
<g id="n200"><text x="1143.3" y="502.7">Fovano</text></g>
<g id="n201"><text x="1143.3" y="511.7">Ribagorzano</text></g>
<g id="n202"><text x="1206.7" y="511.7">Altoribagorzano/Benasquese</text></g>
<g id="n203"><text x="1206.7" y="520.7">Mediorribagorzano</text></g>
<g id="n204"><text x="1206.7" y="529.7">Bajorribagorzano</text></g>
<g id="n205"><text x="1326.7" y="511.7">Alto Benasqués</text></g>
<g id="n206"><text x="1326.7" y="520.7">Bajo Benasqués</text></g>
<g id="n207"><text x="1280.7" y="520.7">Campés</text></g>
<g id="n208"><text x="1287.7" y="529.7">Grausino</text></g>
<g id="n209"><text x="1287.7" y="538.7">Estadillano</text></g>
<g id="n210"><text x="1287.7" y="547.7">Foncese</text></g>
<g id="n211"><text x="1192.7" y="547.7">Ayerbense</text></g>
<g id="n212"><text x="1192.7" y="556.7">Somontano de Barbastro</text></g>
<g id="n213"><text x="1192.7" y="565.7">Viejo Sobrarbe</text></g>
<g id="n214"><text x="1283.7" y="556.7">Navalés</text></g>
<g id="n215"><text class="m" x="1824.5" y="349.7">Gallo-Iberian</text></g>
<g id="n216"><text class="m" x="1358.5" y="377.7">Iberian Romance</text></g>
<g id="n217"><text x="1406.7" y="377.7">Galician-Portuguese</text></g>
<g id="n218"><text x="1406.7" y="422.7">Astur-Leonese</text></g>
<g id="n219"><text x="1406.7" y="737.7">Old Spanish</text></g>
<g id="n220"><text x="1495.7" y="377.7">Galician</text></g>
<g id="n221"><text x="1495.7" y="386.7">Fala</text></g>
<g id="n222"><text x="1495.7" y="404.7">Portuguese</text></g>
<g id="n223"><text x="1495.7" y="413.7">Eonavian</text></g>
<g id="n224"><text x="1542.3" y="377.7">Eastern</text></g>
<g id="n225"><text x="1542.3" y="386.7">Central</text></g>
<g id="n226"><text x="1542.3" y="395.7">Western</text></g>
<g id="n227"><text x="1555.3" y="404.7">European</text></g>
<g id="n228"><text x="1555.3" y="503.7">Santomense</text></g>
<g id="n229"><text x="1555.3" y="512.7">Cap Verdean</text></g>
<g id="n230"><text x="1555.3" y="521.7">Mozambican</text></g>
<g id="n231"><text x="1555.3" y="530.7">Angolan</text></g>
<g id="n232"><text x="1555.3" y="539.7">Guinean</text></g>
<g id="n233"><text x="1555.3" y="548.7">Goan</text></g>
<g id="n234"><text x="1555.3" y="557.7">Damanese</text></g>
<g id="n235"><text x="1555.3" y="566.7">Macaense</text></g>
<g id="n236"><text x="1555.3" y="575.7">East Timorese</text></g>
<g id="n237"><text x="1555.3" y="584.7">Uruguayan Portuguese dialects</text></g>
<g id="n238"><text x="1555.3" y="593.7">Riverense Portunhol</text></g>
<g id="n239"><text x="1555.3" y="602.7">Brazilian</text></g>
<g id="n240"><text x="1607.3" y="404.7">Micaelense/Açoriano</text></g>
<g id="n241"><text x="1607.3" y="413.7">Alentejano</text></g>
<g id="n242"><text x="1607.3" y="422.7">Algarvio</text></g>
<g id="n243"><text x="1607.3" y="431.7">Alto-Minhoto</text></g>
<g id="n244"><text x="1607.3" y="440.7">Baixo-Beirão</text></g>
<g id="n245"><text x="1607.3" y="449.7">Beirão</text></g>
<g id="n246"><text x="1607.3" y="458.7">Estremenho</text></g>
<g id="n247"><text x="1607.3" y="467.7">Madeirense</text></g>
<g id="n248"><text x="1607.3" y="476.7">Nortenho</text></g>
<g id="n249"><text x="1607.3" y="485.7">Transmontano</text></g>
<g id="n250"><text x="1607.3" y="494.7">Judaeo-Portuguese</text></g>
<g id="n251"><text x="1667.3" y="413.7">Oliventino</text></g>
<g id="n252"><text x="1667.3" y="422.7">Barraquenho</text></g>
<g id="n253"><text x="1603.7" y="530.7">Brenguelense</text></g>
<g id="n254"><text x="1603.7" y="539.7">Luandese</text></g>
<g id="n255"><text x="1603.7" y="548.7">Sulista</text></g>
<g id="n256"><text x="1603.7" y="557.7">Huambense</text></g>
<g id="n257"><text x="1606.7" y="602.7">Baiano</text></g>
<g id="n258"><text x="1606.7" y="611.7">Brasiliense</text></g>
<g id="n259"><text x="1606.7" y="620.7">Caipira</text></g>
<g id="n260"><text x="1606.7" y="629.7">Carioca</text></g>
<g id="n261"><text x="1606.7" y="638.7">Cearense</text></g>
<g id="n262"><text x="1606.7" y="647.7">Florianopolitan</text></g>
<g id="n263"><text x="1606.7" y="656.7">Fluminense</text></g>
<g id="n264"><text x="1606.7" y="665.7">Gaúcho</text></g>
<g id="n265"><text x="1606.7" y="674.7">Mineiro</text></g>
<g id="n266"><text x="1606.7" y="683.7">Nordestino</text></g>
<g id="n267"><text x="1606.7" y="692.7">Nortista</text></g>
<g id="n268"><text x="1606.7" y="701.7">Paulista</text></g>
<g id="n269"><text x="1606.7" y="710.7">Serra Amazônica</text></g>
<g id="n270"><text x="1606.7" y="719.7">Sertanejo</text></g>
<g id="n271"><text x="1606.7" y="728.7">Sulista</text></g>
<g id="n272"><text x="1476.7" y="422.7">Asturian/Bable</text></g>
<g id="n273"><text x="1476.7" y="431.7">Leonese</text></g>
<g id="n274"><text x="1476.7" y="440.7">Mirandese</text></g>
<g id="n275"><text x="1476.7" y="449.7">Astur-Leonese</text></g>
<g id="n276"><text x="1476.7" y="458.7">Extremaduran</text></g>
<g id="n277"><text x="1454.7" y="737.7">Spanish</text></g>
<g id="n278"><text x="1500.7" y="737.7">European</text></g>
<g id="n279"><text x="1500.7" y="746.7">Canarian</text></g>
<g id="n280"><text x="1500.7" y="836.7">Equatoguinean</text></g>
<g id="n281"><text x="1500.7" y="845.7">Philippine</text></g>
<g id="n282"><text x="1500.7" y="854.7">American</text></g>
<g id="n283"><text x="1552.7" y="737.7">Northern</text></g>
<g id="n284"><text x="1552.7" y="773.7">Southern</text></g>
<g id="n285"><text x="1552.7" y="791.7">Riojano</text></g>
<g id="n286"><text x="1552.7" y="800.7">Amestáu</text></g>
<g id="n287"><text x="1552.7" y="809.7">Castellano Gallego</text></g>
<g id="n288"><text x="1552.7" y="818.7">Castellano Catalán</text></g>
<g id="n289"><text x="1552.7" y="827.7">Ladino/Judaeo-Spanish</text></g>
<g id="n290"><text x="1604.7" y="737.7">Castellano Septentrional</text></g>
<g id="n291"><text x="1604.7" y="746.7">Castellano Aragonés</text></g>
<g id="n292"><text x="1604.7" y="755.7">Castellano Riojano</text></g>
<g id="n293"><text x="1604.7" y="764.7">Castellano Churro</text></g>
<g id="n294"><text x="1604.7" y="773.7">Andalusian</text></g>
<g id="n295"><text x="1604.7" y="782.7">Murcian</text></g>
<g id="n296"><text x="1604.7" y="791.7">Castúo</text></g>
<g id="n297"><text x="1604.7" y="800.7">Manchego</text></g>
<g id="n298"><text x="1624.7" y="809.7">Castrapo</text></g>
<g id="n299"><text x="1550.7" y="854.7">Caribbean</text></g>
<g id="n300"><text x="1550.7" y="863.7">South American Pacific</text></g>
<g id="n301"><text x="1550.7" y="872.7">Central American</text></g>
<g id="n302"><text x="1550.7" y="881.7">Argentine-Uruguayan-Paraguayan</text></g>
<g id="n303"><text x="1550.7" y="890.7">Highland American</text></g>
<g id="n304"><text class="m" x="2290.5" y="376.7">Gallo-Romance</text></g>
<g id="n305"><text class="m" x="1733.5" y="404.7">Occitano-Romance</text></g>
<g id="n306"><text x="1784.7" y="404.7">Old Occitan</text></g>
<g id="n307"><text x="1783.7" y="638.7">Catalan</text></g>
<g id="n308"><text x="1832.7" y="404.7">Occitan</text></g>
<g id="n309"><text x="1878.7" y="404.7">Gascon</text></g>
<g id="n310"><text x="1878.7" y="440.7">Southern</text></g>
<g id="n311"><text x="1878.7" y="593.7">Northern</text></g>
<g id="n312"><text x="1878.7" y="602.7">Gardiol</text></g>
<g id="n313"><text x="1922.7" y="404.7">Parlar negre/Landese</text></g>
<g id="n314"><text x="1922.7" y="413.7">Parlar clar</text></g>
<g id="n315"><text x="1922.7" y="422.7">Bearnese</text></g>
<g id="n316"><text x="1922.7" y="431.7">Aranese</text></g>
<g id="n317"><text x="1930.7" y="440.7">Lengadocian</text></g>
<g id="n318"><text x="1930.7" y="548.7">Provençal</text></g>
<g id="n319"><text x="1992.7" y="440.7">Oriental</text></g>
<g id="n320"><text x="1992.7" y="458.7">Méridional</text></g>
<g id="n321"><text x="1992.7" y="503.7">Occidental</text></g>
<g id="n322"><text x="1992.7" y="539.7">Septentrional</text></g>
<g id="n323"><text x="2041.3" y="440.7">Cévenol</text></g>
<g id="n324"><text x="2041.3" y="449.7">Montpelliérain</text></g>
<g id="n325"><text x="2048.7" y="458.7">Toulousain</text></g>
<g id="n326"><text x="2048.7" y="467.7">Fuxéen</text></g>
<g id="n327"><text x="2048.7" y="476.7">Donésanais</text></g>
<g id="n328"><text x="2048.7" y="485.7">Narbonnais</text></g>
<g id="n329"><text x="2048.7" y="494.7">Carcassonnais</text></g>
<g id="n330"><text x="2048.7" y="503.7">Bas-Quercinois</text></g>
<g id="n331"><text x="2048.7" y="512.7">Albigeois</text></g>
<g id="n332"><text x="2048.7" y="521.7">Agenais</text></g>
<g id="n333"><text x="2048.7" y="530.7">Bitterois</text></g>
<g id="n334"><text x="2060.7" y="539.7">Bergeracois</text></g>
<g id="n335"><text x="2060.7" y="548.7">Villeneuvois</text></g>
<g id="n336"><text x="2060.7" y="557.7">Sarlandais</text></g>
<g id="n337"><text x="2060.7" y="566.7">Haut-Quercinoi</text></g>
<g id="n338"><text x="2060.7" y="575.7">Aurillacois</text></g>
<g id="n339"><text x="2060.7" y="584.7">Rouergat</text></g>
<g id="n340"><text x="2060.7" y="593.7">Gévaudanais</text></g>
<g id="n341"><text x="2060.7" y="602.7">Bas-Vivarois</text></g>
<g id="n342"><text x="1984.7" y="548.7">Rodanenc</text></g>
<g id="n343"><text x="1984.7" y="557.7">Maritim</text></g>
<g id="n344"><text x="1984.7" y="566.7">Niçard</text></g>
<g id="n345"><text x="1984.7" y="575.7">Shaudit</text></g>
<g id="n346"><text x="1930.7" y="593.7">Lemosin</text></g>
<g id="n347"><text x="1930.7" y="602.7">Auvergnat</text></g>
<g id="n348"><text x="1930.7" y="620.7">Vivaro-Alpine</text></g>
<g id="n349"><text x="1987.7" y="602.7">Bas-Auvergnat</text></g>
<g id="n350"><text x="1987.7" y="611.7">Haut-Auvergnat</text></g>
<g id="n351"><text x="1998.7" y="620.7">Vivaro-Dauphinois</text></g>
<g id="n352"><text x="1998.7" y="629.7">Alpine</text></g>
<g id="n353"><text x="2040.7" y="629.7">Gavot</text></g>
<g id="n354"><text x="2040.7" y="638.7">Cisalpine</text></g>
<g id="n355"><text x="1830.7" y="638.7">Western</text></g>
<g id="n356"><text x="1830.7" y="656.7">Eastern</text></g>
<g id="n357"><text x="1830.7" y="692.7">Judaeo-Catalan</text></g>
<g id="n358"><text x="1879.7" y="638.7">North-Western Catalan</text></g>
<g id="n359"><text x="1879.7" y="647.7">South-Western Catalan/Valencian</text></g>
<g id="n360"><text x="1968.7" y="638.7">Ribagorçan</text></g>
<g id="n361"><text x="1877.7" y="656.7">Northern Catalan</text></g>
<g id="n362"><text x="1877.7" y="665.7">Central Catalan</text></g>
<g id="n363"><text x="1877.7" y="674.7">Balearic</text></g>
<g id="n364"><text x="1877.7" y="683.7">Alguerese</text></g>
<g id="n365"><text class="m" x="2330.7" y="404">Gallo-Rhaetian</text></g>
<g id="n366"><text class="m" x="2123" y="431.7">Old French</text></g>
<g id="n367"><text class="m" x="2123" y="449.7">Langues d'oïl</text></g>
<g id="n368"><text x="2165.7" y="449.7">Middle French</text></g>
<g id="n369"><text x="2165.7" y="638.7">Bourguignon-Morvandiau</text></g>
<g id="n370"><text x="2165.7" y="647.7">Frainc-Comtou</text></g>
<g id="n371"><text x="2165.7" y="656.7">Lorrain</text></g>
<g id="n372"><text x="2165.7" y="719.7">Champenois</text></g>
<g id="n373"><text x="2165.7" y="728.7">Walloon</text></g>
<g id="n374"><text x="2165.7" y="737.7">Picard</text></g>
<g id="n375"><text x="2165.7" y="764.7">Old Norman</text></g>
<g id="n376"><text x="2165.7" y="773.7">Tourangeau</text></g>
<g id="n377"><text x="2165.7" y="782.7">Orleanais</text></g>
<g id="n378"><text x="2165.7" y="791.7">Berrichon</text></g>
<g id="n379"><text x="2165.7" y="800.7">Bourbonnais</text></g>
<g id="n380"><text x="2165.7" y="809.7">Sarthois</text></g>
<g id="n381"><text x="2165.7" y="818.7">Angevin</text></g>
<g id="n382"><text x="2165.7" y="827.7">Gallo</text></g>
<g id="n383"><text x="2165.7" y="836.7">Poitevin-Saintongeais</text></g>
<g id="n384"><text x="2220.7" y="449.7">French</text></g>
<g id="n385"><text x="2261.7" y="449.7">Standard French</text></g>
<g id="n386"><text x="2261.7" y="458.7">Canadian</text></g>
<g id="n387"><text x="2261.7" y="467.7">Missouri</text></g>
<g id="n388"><text x="2261.7" y="512.7">Louisiana</text></g>
<g id="n389"><text x="2261.7" y="530.7">Saint-Barthélemy</text></g>
<g id="n390"><text x="2261.7" y="539.7">African</text></g>
<g id="n391"><text x="2261.7" y="548.7">Asian</text></g>
<g id="n392"><text x="2261.7" y="584.7">European</text></g>
<g id="n393"><text x="2312.7" y="458.7">Quebec</text></g>
<g id="n394"><text x="2312.7" y="467.7">Acadian</text></g>
<g id="n395"><text x="2312.7" y="476.7">Métis</text></g>
<g id="n396"><text x="2312.7" y="485.7">Newfoundland</text></g>
<g id="n397"><text x="2312.7" y="494.7">Brayon</text></g>
<g id="n398"><text x="2312.7" y="503.7">New England</text></g>
<g id="n399"><text x="2313.7" y="512.7">Cajun</text></g>
<g id="n400"><text x="2313.7" y="521.7">Colonial</text></g>
<g id="n401"><text x="2297.7" y="539.7">Maghreb</text></g>
<g id="n402"><text x="2300" y="548.7">Cambodian</text></g>
<g id="n403"><text x="2300" y="557.7">Indian</text></g>
<g id="n404"><text x="2300" y="566.7">Lao</text></g>
<g id="n405"><text x="2300" y="575.7">Vietnam</text></g>
<g id="n406"><text x="2312.7" y="584.7">Jersey Legal</text></g>
<g id="n407"><text x="2312.7" y="593.7">Belgian</text></g>
<g id="n408"><text x="2312.7" y="602.7">Swiss</text></g>
<g id="n409"><text x="2312.7" y="611.7">Aostan</text></g>
<g id="n410"><text x="2312.7" y="620.7">Meridional</text></g>
<g id="n411"><text x="2312.7" y="629.7">Judaeo-French/Zarphatic</text></g>
<g id="n412"><text x="2270.7" y="638.7">Bourguignon</text></g>
<g id="n413"><text x="2270.7" y="647.7">Morvandiau</text></g>
<g id="n414"><text x="2330.7" y="647.7">Sédelocien</text></g>
<g id="n415"><text x="2330.7" y="656.7">Du nord-ouest</text></g>
<g id="n416"><text x="2330.7" y="665.7">Central</text></g>
<g id="n417"><text x="2330.7" y="674.7">De la montagne</text></g>
<g id="n418"><text x="2210.7" y="656.7">Argonnais</text></g>
<g id="n419"><text x="2210.7" y="665.7">Longovicie</text></g>
<g id="n420"><text x="2210.7" y="674.7">Gaumais</text></g>
<g id="n421"><text x="2210.7" y="683.7">Messin</text></g>
<g id="n422"><text x="2210.7" y="692.7">Nancéien</text></g>
<g id="n423"><text x="2210.7" y="701.7">Spinalien</text></g>
<g id="n424"><text x="2210.7" y="710.7">Déodatien</text></g>
<g id="n425"><text x="2212.7" y="728.7">Southern</text></g>
<g id="n426"><text x="2212.7" y="737.7">Central</text></g>
<g id="n427"><text x="2212.7" y="746.7">Eastern</text></g>
<g id="n428"><text x="2212.7" y="755.7">Western/Wallo-Picard</text></g>
<g id="n429"><text x="2222.7" y="764.7">Anglo-Norman</text></g>
<g id="n430"><text x="2222.7" y="773.7">Norman</text></g>
<g id="n431"><text x="2266.7" y="773.7">Jèrriais</text></g>
<g id="n432"><text x="2266.7" y="782.7">Guernésiais</text></g>
<g id="n433"><text x="2266.7" y="791.7">Sercquiais</text></g>
<g id="n434"><text x="2266.7" y="800.7">Auregnais</text></g>
<g id="n435"><text x="2266.7" y="809.7">Cotentinais</text></g>
<g id="n436"><text x="2266.7" y="818.7">Cauchois</text></g>
<g id="n437"><text x="2266.7" y="827.7">Augeron</text></g>
<g id="n438"><text x="2261.7" y="836.7">Poitevin</text></g>
<g id="n439"><text x="2261.7" y="845.7">Saintongeais</text></g>
<g id="n440"><text class="m" x="2359.5" y="430.7">Franco-Provençal/Arpitan</text></g>
<g id="n441"><text x="2424.7" y="430.7">Lyonnais</text></g>
<g id="n442"><text x="2424.7" y="475.7">Dauphinois</text></g>
<g id="n443"><text x="2424.7" y="520.7">Savoyard</text></g>
<g id="n444"><text x="2424.7" y="601.7">Franc-Comtois</text></g>
<g id="n445"><text x="2424.7" y="646.7">Vaudois</text></g>
<g id="n446"><text x="2424.7" y="682.7">Valdôtain</text></g>
<g id="n447"><text x="2424.7" y="799.7">Piedmontese Arpitan</text></g>
<g id="n448"><text x="2424.7" y="808.7">Faetar &amp; Cigliàje</text></g>
<g id="n449"><text x="2474.7" y="430.7">Bressan</text></g>
<g id="n450"><text x="2474.7" y="439.7">Bugésien</text></g>
<g id="n451"><text x="2474.7" y="448.7">Mâconnais</text></g>
<g id="n452"><text x="2474.7" y="457.7">Lyonnais-rural</text></g>
<g id="n453"><text x="2474.7" y="466.7">Roannais &amp; Stéphanois</text></g>
<g id="n454"><text x="2481.7" y="475.7">Dauphinois-Rhodanien</text></g>
<g id="n455"><text x="2481.7" y="484.7">Crémieu</text></g>
<g id="n456"><text x="2481.7" y="493.7">Terres-Froides</text></g>
<g id="n457"><text x="2481.7" y="502.7">Chambaran</text></g>
<g id="n458"><text x="2481.7" y="511.7">Grésivaudan</text></g>
<g id="n459"><text x="2476.7" y="520.7">Bessanèis</text></g>
<g id="n460"><text x="2476.7" y="529.7">Langrin</text></g>
<g id="n461"><text x="2476.7" y="538.7">Matchutin</text></g>
<g id="n462"><text x="2476.7" y="547.7">Tarentaise</text></g>
<g id="n463"><text x="2476.7" y="556.7">Arly</text></g>
<g id="n464"><text x="2476.7" y="565.7">Chambérien</text></g>
<g id="n465"><text x="2476.7" y="574.7">Annecien</text></g>
<g id="n466"><text x="2476.7" y="583.7">Faucigneran</text></g>
<g id="n467"><text x="2476.7" y="592.7">Chablaisien</text></g>
<g id="n468"><text x="2490.7" y="601.7">Neuchâtelois</text></g>
<g id="n469"><text x="2490.7" y="610.7">Vaudois-NW</text></g>
<g id="n470"><text x="2490.7" y="619.7">Pontissalien</text></g>
<g id="n471"><text x="2490.7" y="628.7">Ain-N</text></g>
<g id="n472"><text x="2490.7" y="637.7">Valserine</text></g>
<g id="n473"><text x="2472.7" y="646.7">Vaudois-Intracluster</text></g>
<g id="n474"><text x="2472.7" y="655.7">Gruyèrienne</text></g>
<g id="n475"><text x="2472.7" y="664.7">Enhaut</text></g>
<g id="n476"><text x="2472.7" y="673.7">Valaisan</text></g>
<g id="n477"><text x="2479.7" y="682.7">Valdôtain du Valdigne</text></g>
<g id="n478"><text x="2479.7" y="691.7">Aostois</text></g>
<g id="n479"><text x="2479.7" y="700.7">Valdôtain standard</text></g>
<g id="n480"><text x="2479.7" y="709.7">Valpellinois, Bossolein &amp; Bionassin</text></g>
<g id="n481"><text x="2479.7" y="718.7">Cognein</text></g>
<g id="n482"><text x="2479.7" y="727.7">Valtournain</text></g>
<g id="n483"><text x="2479.7" y="736.7">Ayassin</text></g>
<g id="n484"><text x="2479.7" y="745.7">Valgrisein</text></g>
<g id="n485"><text x="2479.7" y="754.7">Rhêmiard</text></g>
<g id="n486"><text x="2479.7" y="763.7">Valsavarein</text></g>
<g id="n487"><text x="2479.7" y="772.7">Moyen Valdôtain</text></g>
<g id="n488"><text x="2479.7" y="781.7">Bas Valdôtain</text></g>
<g id="n489"><text x="2479.7" y="790.7">Champorcherin</text></g>
<g id="n490"><text class="m" x="2539.5" y="430.7">Rhaeto-Romance</text></g>
<g id="n491"><text x="2588.7" y="430.7">Friulian</text></g>
<g id="n492"><text x="2588.7" y="466.7">Ladin</text></g>
<g id="n493"><text x="2588.7" y="574.7">Romansh</text></g>
<g id="n494"><text x="2633.7" y="430.7">Friulano Carnico</text></g>
<g id="n495"><text x="2633.7" y="439.7">Friulano Concordiese</text></g>
<g id="n496"><text x="2633.7" y="448.7">Friulano Centrale</text></g>
<g id="n497"><text x="2633.7" y="457.7">Friulano Goriziano</text></g>
<g id="n498"><text x="2627.7" y="466.7">Gardenese</text></g>
<g id="n499"><text x="2627.7" y="475.7">Fassano</text></g>
<g id="n500"><text x="2627.7" y="484.7">Nones</text></g>
<g id="n501"><text x="2627.7" y="493.7">Solandro</text></g>
<g id="n502"><text x="2627.7" y="502.7">Badioto-Marebbano</text></g>
<g id="n503"><text x="2627.7" y="511.7">Fodom</text></g>
<g id="n504"><text x="2627.7" y="520.7">Rocchesano</text></g>
<g id="n505"><text x="2627.7" y="529.7">Ampezzano</text></g>
<g id="n506"><text x="2627.7" y="538.7">Comeliano</text></g>
<g id="n507"><text x="2627.7" y="547.7">Cadorino</text></g>
<g id="n508"><text x="2627.7" y="556.7">Vazontino</text></g>
<g id="n509"><text x="2627.7" y="565.7">Agordino e Val di Zoldo</text></g>
<g id="n510"><text x="2637.7" y="574.7">Sursilvan</text></g>
<g id="n511"><text x="2637.7" y="583.7">Sutsilvan</text></g>
<g id="n512"><text x="2637.7" y="592.7">Surmiran</text></g>
<g id="n513"><text x="2637.7" y="601.7">Puter</text></g>
<g id="n514"><text x="2637.7" y="610.7">Vallader</text></g>
<g id="n515"><text x="2668.7" y="601.7">Bargaiot</text></g>
<g id="n516"><text x="2677" y="610.7">Münstertal</text></g>
<g id="n517"><text class="m" x="2689.7" y="402.7">Venetian</text></g>
<g id="n518"><text x="2726.7" y="402.7">Veronese</text></g>
<g id="n519"><text x="2726.7" y="411.7">Vicentino-Padovano-Polesano</text></g>
<g id="n520"><text x="2726.7" y="420.7">Veneziano</text></g>
<g id="n521"><text x="2726.7" y="429.7">Trentino Centrale</text></g>
<g id="n522"><text x="2726.7" y="438.7">Trentino Orientale</text></g>
<g id="n523"><text x="2726.7" y="447.7">Feltrino-Bellunese</text></g>
<g id="n524"><text x="2726.7" y="456.7">Trevigiano</text></g>
<g id="n525"><text x="2726.7" y="465.7">Maranese</text></g>
<g id="n526"><text x="2726.7" y="474.7">Gradese</text></g>
<g id="n527"><text x="2726.7" y="483.7">Bisiaco</text></g>
<g id="n528"><text x="2726.7" y="492.7">Triestino</text></g>
<g id="n529"><text x="2726.7" y="501.7">Veneto-Udinese</text></g>
<g id="n530"><text x="2726.7" y="510.7">Veneto Pontino</text></g>
<g id="n531"><text x="2726.7" y="519.7">Cipileño</text></g>
<g id="n532"><text x="2726.7" y="528.7">Talian</text></g>
<g id="n533"><text class="m" x="2848" y="402.7">Gallo-Italic</text></g>
<g id="n534"><text x="2887.7" y="402.7">Piedmontese</text></g>
<g id="n535"><text x="2887.7" y="501.7">Ligurian</text></g>
<g id="n536"><text x="2887.7" y="573.7">Lombard</text></g>
<g id="n537"><text x="2887.7" y="672.7">Emiliano-Romagnolo</text></g>
<g id="n538"><text x="2887.7" y="681.7">Gallo-Italic of Sicily</text></g>
<g id="n539"><text x="2887.7" y="690.7">Gallo-Italic of Basilicata</text></g>
<g id="n540"><text x="2950.7" y="402.7">Piemontese Occidentale</text></g>
<g id="n541"><text x="2950.7" y="420.7">Piemontese Orientale</text></g>
<g id="n542"><text x="2950.7" y="429.7">Canavese</text></g>
<g id="n543"><text x="3048.3" y="402.7">Torinese</text></g>
<g id="n544"><text x="3048.3" y="411.7">Cuneese</text></g>
<g id="n545"><text x="3042.7" y="420.7">Astigiano</text></g>
<g id="n546"><text x="3042.7" y="429.7">Langarolo</text></g>
<g id="n547"><text x="3042.7" y="438.7">Roerino</text></g>
<g id="n548"><text x="3042.7" y="447.7">Alto Monferrino</text></g>
<g id="n549"><text x="3042.7" y="456.7">Basso Monferrino</text></g>
<g id="n550"><text x="3042.7" y="465.7">Alessandrino</text></g>
<g id="n551"><text x="3042.7" y="474.7">Vercellese</text></g>
<g id="n552"><text x="3042.7" y="483.7">Biellese</text></g>
<g id="n553"><text x="3042.7" y="492.7">Valsesiano</text></g>
<g id="n554"><text x="2935.7" y="501.7">Ligure Occidentale</text></g>
<g id="n555"><text x="2935.7" y="519.7">Ligure Centro-Occidentale</text></g>
<g id="n556"><text x="2935.7" y="528.7">Ligure Alpino</text></g>
<g id="n557"><text x="2935.7" y="537.7">Ligure Genovese</text></g>
<g id="n558"><text x="2935.7" y="546.7">Ligure dell'Oltregiogo</text></g>
<g id="n559"><text x="2935.7" y="555.7">Ligure Orientale</text></g>
<g id="n560"><text x="2935.7" y="564.7">Tabarchino</text></g>
<g id="n561"><text x="3017.3" y="501.7">Intemelio</text></g>
<g id="n562"><text x="3017.3" y="510.7">Monégasque</text></g>
<g id="n563"><text x="2989.7" y="528.7">Brigasco</text></g>
<g id="n564"><text x="2935.7" y="573.7">Western Lombard</text></g>
<g id="n565"><text x="2935.7" y="645.7">Eastern Lombard</text></g>
<g id="n566"><text x="3012.7" y="573.7">Meneghino</text></g>
<g id="n567"><text x="3012.7" y="582.7">Pavese-Lodigiano-Novarese</text></g>
<g id="n568"><text x="3012.7" y="591.7">Brianzolo</text></g>
<g id="n569"><text x="3012.7" y="600.7">Bustocco-Legnanese</text></g>
<g id="n570"><text x="3012.7" y="609.7">Comasco-Lecchese</text></g>
<g id="n571"><text x="3012.7" y="618.7">Bosino</text></g>
<g id="n572"><text x="3012.7" y="627.7">Ticinese</text></g>
<g id="n573"><text x="3012.7" y="636.7">Valtellinese-Chiavennasco</text></g>
<g id="n574"><text x="3010.7" y="645.7">Bergamasco</text></g>
<g id="n575"><text x="3010.7" y="654.7">Bresciano</text></g>
<g id="n576"><text x="3010.7" y="663.7">Trentino Occidentale</text></g>
<g id="n577"><text x="2972.7" y="672.7">Romagnol</text></g>
<g id="n578"><text x="2972.7" y="681.7">Emilian</text></g>
<g id="n579"><text x="3015.7" y="681.7">Carrarese-Lunense</text></g>
<g id="n580"><text x="3015.7" y="690.7">Pavese-Vogherese</text></g>
<g id="n581"><text x="3015.7" y="699.7">Piacentino</text></g>
<g id="n582"><text x="3015.7" y="708.7">Modenese</text></g>
<g id="n583"><text x="3015.7" y="717.7">Reggiano</text></g>
<g id="n584"><text x="3015.7" y="726.7">Parmigiano</text></g>
<g id="n585"><text x="3015.7" y="744.7">Bolognese</text></g>
<g id="n586"><text x="3015.7" y="753.7">Ferrarese</text></g>
<g id="n587"><text x="3015.7" y="762.7">Mantovano</text></g>
<g id="n588"><text x="3069.7" y="708.7">Mirandolese</text></g>
<g id="n589"><text x="3069.7" y="717.7">Carpignano</text></g>
<g id="n590"><text x="3069.7" y="726.7">Modenese di città</text></g>
<g id="n591"><text x="3069.7" y="735.7">Frignanese</text></g>
<g id="n592"><text x="3070.7" y="744.7">Cittadino</text></g>
<g id="n593"><text x="3070.7" y="753.7">Dialetti montani medi</text></g>
<g id="n594"><text x="3070.7" y="762.7">Dialetti montani alti</text></g>
<g id="n595"><text x="3070.7" y="771.7">Dialetti della pianura occidentale</text></g>
<g id="n596"><text x="3070.7" y="780.7">Dialetti della pianura orientale</text></g>
<g id="n597"><text x="3070.7" y="789.7">Dialetti della pianura settentrionale</text></g>
</g>
</svg>
